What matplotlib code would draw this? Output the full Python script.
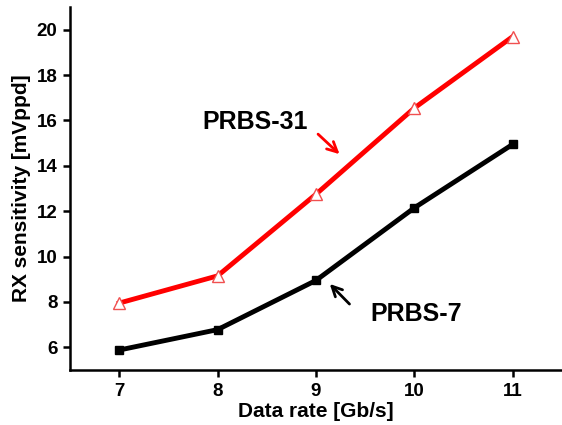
import matplotlib
matplotlib.use("Agg")
import matplotlib.pyplot as plt

plt.rcParams['font.family'] = ['Liberation Sans', 'DejaVu Sans']
plt.rcParams['font.weight'] = 'bold'

rates = [7, 8, 9, 10, 11]
prbs31 = [7.95, 9.15, 12.75, 16.55, 19.7]
prbs7 = [5.88, 6.78, 8.95, 12.15, 14.95]
xticks = [7, 8, 9, 10, 11]
yticks = [6, 8, 10, 12, 14, 16, 18, 20]

fig = plt.figure(figsize=(5.62, 4.25), dpi=100)
ax = fig.add_axes([0.1246, 0.1294, 0.8754, 0.8541])

ax.plot(rates, prbs7, color="black", lw=3.5, marker="s", ms=5.5, zorder=3)
ax.plot(rates, prbs31, color="red", lw=3.5, marker="^", ms=8.5,
        mfc="white", mec="#f05050", mew=1, zorder=3)

ax.set_xlim(6.5, 11.5)
ax.set_ylim(5, 21)
ax.set_xticks(xticks)
ax.set_yticks(yticks)

for s in ["top", "right"]:
    ax.spines[s].set_visible(False)
for s in ["left", "bottom"]:
    ax.spines[s].set_linewidth(1.8)

ax.tick_params(direction="out", length=5, width=1.8, labelsize=13.5, pad=4)
for lab in ax.get_xticklabels() + ax.get_yticklabels():
    lab.set_fontweight("bold")

ax.set_xlabel("Data rate [Gb/s]", fontsize=15, fontweight="bold", labelpad=2)
ax.set_ylabel("RX sensitivity [mVppd]", fontsize=15, fontweight="bold", labelpad=4)

# annotations
ax.annotate("", xy=(9.26, 14.43), xytext=(9.0, 15.48),
            arrowprops=dict(arrowstyle="->", color="red", lw=2, mutation_scale=18))
ax.text(8.38, 15.95, "PRBS-31", fontsize=18, fontweight="bold", ha="center", va="center")
ax.annotate("", xy=(9.12, 8.88), xytext=(9.36, 7.82),
            arrowprops=dict(arrowstyle="->", color="black", lw=2, mutation_scale=18))
ax.text(9.55, 7.45, "PRBS-7", fontsize=18, fontweight="bold", ha="left", va="center")

fig.savefig("out.png", dpi=100)
